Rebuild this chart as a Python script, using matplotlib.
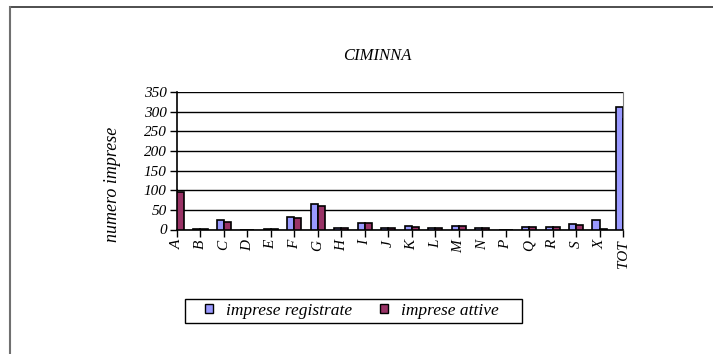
import matplotlib
matplotlib.use("Agg")
import matplotlib.pyplot as plt
from matplotlib.patches import Patch, Rectangle
from matplotlib.lines import Line2D
import numpy as np

categories = ["A", "B", "C", "D", "E", "F", "G", "H", "I", "J", "K", "L",
              "M", "N", "P", "Q", "R", "S", "X", "TOT"]
registrate = [100, 2, 24, 0, 2, 31, 65, 5, 17, 4, 8, 3, 10, 5, 0, 7, 7, 13, 23, 312]
attive = [96, 2, 20, 0, 2, 30, 60, 4, 17, 4, 6, 3, 8, 4, 0, 6, 6, 11, 2, 281]
yticks = [0, 50, 100, 150, 200, 250, 300, 350]

title = "CIMINNA"
ylabel = "numero imprese"
legend_labels = ["imprese registrate", "imprese attive"]

blue = "#9999FF"
red = "#993366"
font = "Liberation Serif"

W, H = 713, 354
fig = plt.figure(figsize=(W / 100, H / 100), dpi=100)
fig.patch.set_facecolor("white")

L, R, T, B = 177, 623, 92, 229.5
ax = fig.add_axes([L / W, 1 - B / H, (R - L) / W, (B - T) / H])

x = np.arange(len(categories))
bw = 0.3
ax.bar(x - bw / 2, registrate, width=bw, color=blue, edgecolor="black", linewidth=1.2, zorder=3)
ax.bar(x + bw / 2, attive, width=bw, color=red, edgecolor="black", linewidth=1.2, zorder=3)

ax.set_xlim(0, len(categories) - 1)
ax.set_ylim(0, 350)
ax.set_yticks(yticks)
ax.set_yticklabels([str(v) for v in yticks], family=font, style="italic", fontsize=11)
ax.set_xticks(x)
ax.set_xticklabels(categories, family=font, style="italic", fontsize=11, rotation=90)
ax.tick_params(axis="both", direction="out", length=5, width=1, color="black", pad=2.5)
ax.yaxis.grid(True, color="black", linewidth=1, zorder=0)
ax.set_axisbelow(True)
ax.spines["top"].set_visible(False)
ax.spines["right"].set_color("#808080")
ax.spines["left"].set_linewidth(1.2)
ax.spines["bottom"].set_linewidth(1.2)

ax.set_ylabel(ylabel, family=font, style="italic", fontsize=13)
ax.yaxis.set_label_coords((121 - L) / (R - L), (B - 184.5) / (B - T))

fig.text(377 / W, 1 - 56 / H, title, family=font, style="italic", fontsize=12,
         ha="center", va="center")

handles = [Patch(facecolor=blue, edgecolor="black", linewidth=1),
           Patch(facecolor=red, edgecolor="black", linewidth=1)]
leg = fig.legend(handles, legend_labels, loc="center", bbox_to_anchor=(352 / W, 1 - 311 / H),
                 ncol=2, frameon=False,
                 prop={"family": font, "style": "italic", "size": 12.5},
                 handlelength=0.45, handleheight=0.45, handletextpad=0.75, columnspacing=1.6,
                 borderpad=0.2)
fig.add_artist(Rectangle((185 / W, 1 - 323 / H), (522 - 185) / W, 24 / H,
                         transform=fig.transFigure, fill=False, edgecolor="black", linewidth=1))

# outer frame (top and left edges visible)
fig.add_artist(Line2D([10 / W, 1], [1 - 7 / H, 1 - 7 / H], transform=fig.transFigure,
                      color="#303030", linewidth=1.2))
fig.add_artist(Line2D([10 / W, 10 / W], [0, 1 - 7 / H], transform=fig.transFigure,
                      color="#707070", linewidth=1.5))

fig.savefig("out.png", dpi=100)
